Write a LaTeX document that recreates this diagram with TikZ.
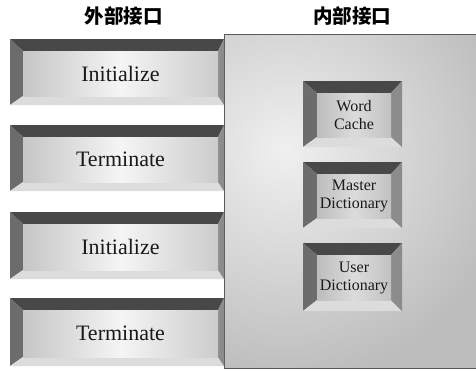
\documentclass[tikz,border=0pt]{standalone}
\usepackage{fontspec}
\setmainfont{Liberation Serif}
\newfontfamily\cjk{Noto Sans CJK SC}
\usetikzlibrary{calc,fit}
\definecolor{bvTop}{HTML}{484848}
\definecolor{bvLeft}{HTML}{6C6C6C}
\definecolor{bvBot}{HTML}{DCDCDC}
\definecolor{bvRight}{HTML}{8C8C8C}
\definecolor{txt}{HTML}{1A1A1A}
\tikzset{
  title/.style={font=\cjk\bfseries\fontsize{19.5}{21}\selectfont, text=black, inner sep=0pt},
  bigface/.style={inner sep=0pt, left color=gray!45, right color=gray!40, middle color=gray!8},
  bigtext/.style={inner sep=0pt, text=txt, font=\fontsize{22}{24}\selectfont},
  smallface/.style={inner sep=0pt, left color=gray!52, right color=gray!48, middle color=gray!28},
  smalltext/.style={inner sep=0pt, text=txt, align=center, font=\fontsize{16}{18}\selectfont},
}
% #1 name, #2 outer corner 1, #3 outer corner 2, #4 l, #5 t, #6 r, #7 b, #8 face style, #9 text style
\newcommand{\bevbtn}[9]{%
  \coordinate (#1-o1) at (#2);
  \coordinate (#1-o2) at (#3);
  \coordinate (#1-i1) at ($(#1-o1)+(#4,#5)$);
  \coordinate (#1-i2) at ($(#1-o2)+(-#6,-#7)$);
  \fill[bvTop] (#1-o1) -- (#1-o2 |- #1-o1) -- (#1-i2 |- #1-i1) -- (#1-i1) -- cycle;
  \fill[bvLeft] (#1-o1) -- (#1-i1) -- (#1-i1 |- #1-i2) -- (#1-o1 |- #1-o2) -- cycle;
  \fill[bvBot] (#1-o1 |- #1-o2) -- (#1-i1 |- #1-i2) -- (#1-i2) -- (#1-o2) -- cycle;
  \fill[bvRight] (#1-o2 |- #1-o1) -- (#1-o2) -- (#1-i2) -- (#1-i2 |- #1-i1) -- cycle;
  \node[#8, fit=(#1-i1)(#1-i2)] (#1) {};
  \node[#9] (#1-t) at (#1.center)
}
\begin{document}
\begin{tikzpicture}[x=1pt,y=-1pt]
\useasboundingbox (0,0) rectangle (476,370);
\fill[white] (0,0) rectangle (476,370);
% titles
\node[title] (t1) at (123.5,16.5) {外部接口};
\node[title] (t2) at (352,16.5) {内部接口};
% panel
\coordinate (p1) at (224,34);
\coordinate (p2) at (476,368);
\fill[gray!52] (p1) rectangle (p2);
\begin{scope}
  \clip (p1) rectangle (p2);
  \shade[inner color=gray!12, outer color=gray!52] (285,150) circle (230);
\end{scope}
\node[draw=gray!70!black, line width=0.6pt, inner sep=0pt, fit=(p1)(p2)] (panel) {};
% left buttons
\bevbtn{b1}{10,39}{224,105}{13}{12}{6}{9}{bigface}{bigtext}{Initialize};
\bevbtn{b2}{10,125}{224,191}{13}{12}{6}{9}{bigface}{bigtext}{Terminate};
\bevbtn{b3}{10,212}{224,279}{13}{12}{6}{9}{bigface}{bigtext}{Initialize};
\bevbtn{b4}{10,298}{224,366}{13}{12}{6}{9}{bigface}{bigtext}{Terminate};
% right buttons
\bevbtn{r1}{303,81}{402,147}{14}{12}{11}{10}{smallface}{smalltext}{Word\\Cache};
\bevbtn{r2}{303,162}{402,228}{14}{12}{11}{10}{smallface}{smalltext}{Master\\Dictionary};
\bevbtn{r3}{303,243}{402,311}{14}{12}{11}{11}{smallface}{smalltext}{User\\Dictionary};
\end{tikzpicture}
\end{document}
